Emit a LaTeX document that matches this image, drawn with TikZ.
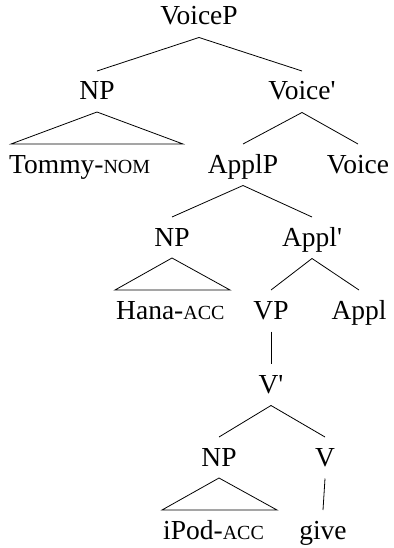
\documentclass[tikz,border=0pt]{standalone}
\usepackage{fontspec}
\setmainfont{Liberation Serif}[Ligatures=TeXOff]
\usetikzlibrary{calc}
\newcommand\mysc[1]{{\fontsize{20}{22}\selectfont #1}}
\begin{document}
\begin{tikzpicture}[x=1pt,y=-1pt,
  lab/.style={anchor=base,inner sep=0pt,font=\fontsize{27.5}{30}\selectfont},
  leaf/.style={anchor=base west,inner sep=0pt,font=\fontsize{27.5}{30}\selectfont},
  edge/.style={line width=0.8pt}]
\useasboundingbox (0,0) rectangle (393,548);
% nodes
\node[lab] (voicep) at (199,25) {VoiceP};
\node[lab] (np1) at (97,100) {NP};
\node[lab] (vbar) at (302,100) {Voice'};
\node[leaf] (tommy) at (9,173) {Tommy-\mysc{NOM}};
\node[lab] (applp) at (243,173) {ApplP};
\node[lab] (voice) at (358,173) {Voice};
\node[lab] (np2) at (172,246) {NP};
\node[lab] (applbar) at (312,246) {Appl'};
\node[leaf] (hana) at (116,319) {Hana-\mysc{ACC}};
\node[lab] (vpn) at (271,319) {VP};
\node[lab] (appl) at (359,319) {Appl};
\node[lab] (vbar2) at (271,393) {V'};
\node[lab] (np3) at (219,466) {NP};
\node[lab] (v) at (325,466) {V};
\node[leaf] (ipod) at (163,539) {iPod-\mysc{ACC}};
\node[lab] (give) at (323,539) {give};
% branches
\foreach \a/\b in {voicep/np1, voicep/vbar, vbar/applp, vbar/voice,
                   applp/np2, applp/applbar, applbar/vpn, applbar/appl,
                   vpn/vbar2, vbar2/np3, vbar2/v, v/give}
  \draw[edge] ([yshift=-12.5pt]\a.base) -- ([yshift=29pt]\b.base);
% triangles
\draw[edge] ([yshift=-12pt]np1.base) -- ($(np1.base |- tommy.base)+(-86,-29)$)
  -- ($(np1.base |- tommy.base)+(86,-29)$) -- cycle;
\draw[edge] ([yshift=-12pt]np2.base) -- ($(np2.base |- hana.base)+(-57,-29)$)
  -- ($(np2.base |- hana.base)+(58,-29)$) -- cycle;
\draw[edge] ([yshift=-12pt]np3.base) -- ($(np3.base |- ipod.base)+(-57,-29)$)
  -- ($(np3.base |- ipod.base)+(58,-29)$) -- cycle;
\end{tikzpicture}
\end{document}
